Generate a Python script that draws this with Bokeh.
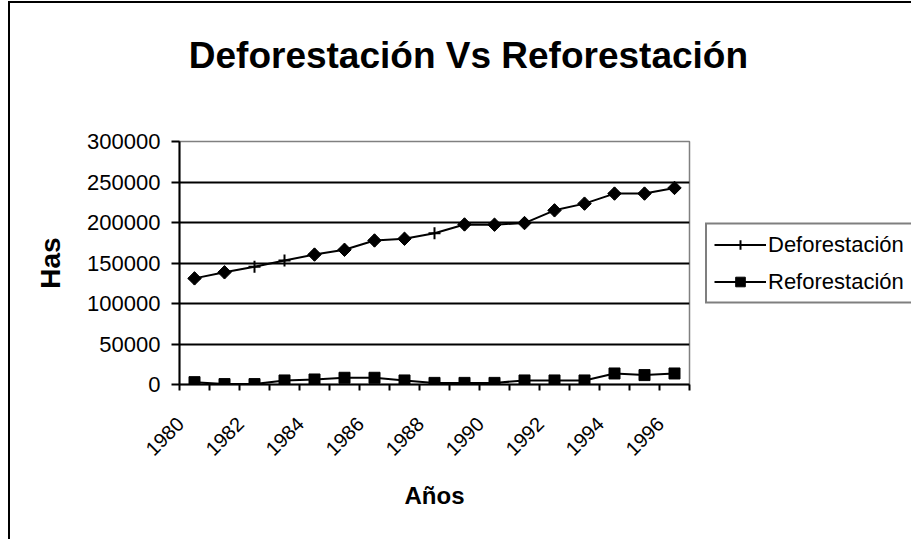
import math
from bokeh.plotting import figure
from bokeh.models import (Range1d, FixedTicker, BasicTickFormatter, Legend,
                          LegendItem, CustomJSTickFormatter, GlobalInlineStyleSheet,
                          LinearAxis)
from bokeh.embed import file_html
from bokeh.resources import INLINE

# ---- data ----
anios = list(range(1980, 1997))
deforestacion = [131000, 138500, 145500, 153000, 160400, 166300, 177800, 179900,
                 186800, 197600, 197300, 199300, 215000, 223300, 235700, 235700, 242700]
reforestacion = [2900, 500, 500, 5000, 6200, 8300, 8300, 5000,
                 2000, 2000, 2000, 5000, 5000, 5000, 13600, 11600, 13600]
# which deforestation points carry a diamond marker in the original
rombo = [1, 1, 0, 0, 1, 1, 1, 1, 0, 1, 1, 1, 1, 1, 1, 1, 1]
etiquetas_x = [1980, 1982, 1984, 1986, 1988, 1990, 1992, 1994, 1996]
ticks_y = [0, 50000, 100000, 150000, 200000, 250000, 300000]
titulo = "Deforestación Vs Reforestación"
serie_1 = "Deforestación"
serie_2 = "Reforestación"
eje_x = "Años"
eje_y = "Has"

FONT = "Liberation Sans"
LABEL_SHIFT = 0.47   # rotated labels end a little left of the category centre
# the chart title sits right of the plot-area centre: pad it on the left with
# em + en + three-per-em spaces (about 68 px at 37 px) so its centre moves ~34 px
TITLE_PAD = "\u2003\u2002\u2004"

p = figure(frame_width=510, frame_height=243,
           x_range=Range1d(anios[0] - 0.5, anios[-1] + 0.5),
           y_range=Range1d(ticks_y[0], ticks_y[-1]),
           output_backend="svg", toolbar_location=None,
           min_border_left=169, min_border_right=238,
           min_border_top=138, min_border_bottom=155)
p.styles = {"margin-left": "8px", "margin-top": "1px",
            "border-left": "2px solid black", "border-top": "2px solid black"}
p.stylesheets = [GlobalInlineStyleSheet(css="html, body { overflow: hidden; }")]
p.background_fill_color = "white"
p.border_fill_color = "white"
p.outline_line_color = "#808080"
p.outline_line_width = 1.5

# title: label of a bare axis above the plot area
title_axis = LinearAxis(ticker=FixedTicker(ticks=[]),
                        axis_line_color=None, major_tick_line_color=None,
                        minor_tick_line_color=None, major_tick_out=0, major_tick_in=0,
                        minor_tick_out=0, minor_tick_in=0,
                        major_label_text_font_size="0px", major_label_standoff=0,
                        axis_label=TITLE_PAD + titulo, axis_label_standoff=66,
                        axis_label_text_font=FONT, axis_label_text_font_style="bold",
                        axis_label_text_font_size="37px", axis_label_text_color="black")
p.add_layout(title_axis, "above")

# grid
p.xgrid.visible = False
p.ygrid.ticker = FixedTicker(ticks=ticks_y[1:-1])
p.ygrid.grid_line_color = "black"
p.ygrid.grid_line_width = 2

# x axis
xa = p.below[0]
xa.ticker = FixedTicker(ticks=[a - LABEL_SHIFT for a in etiquetas_x],
                        minor_ticks=[a - 0.5 for a in anios] + [anios[-1] + 0.5])
xa.formatter = CustomJSTickFormatter(code="return String(Math.round(tick));")
xa.major_tick_in = 0
xa.major_tick_out = 0
xa.minor_tick_in = 0
xa.minor_tick_out = 6
xa.minor_tick_line_color = "black"
xa.minor_tick_line_width = 2
xa.axis_line_color = "black"
xa.axis_line_width = 2
xa.major_label_orientation = math.pi / 4
xa.major_label_standoff = 30
xa.major_label_text_font = FONT
xa.major_label_text_font_size = "20px"
xa.major_label_text_color = "black"
xa.axis_label = eje_x
xa.axis_label_text_font = FONT
xa.axis_label_text_font_style = "bold"
xa.axis_label_text_font_size = "24px"
xa.axis_label_text_color = "black"
xa.axis_label_standoff = 17

# y axis
ya = p.yaxis[0]
ya.ticker = FixedTicker(ticks=ticks_y)
ya.formatter = BasicTickFormatter(use_scientific=False)
ya.major_tick_in = 0
ya.major_tick_out = 8
ya.major_tick_line_color = "black"
ya.major_tick_line_width = 2
ya.minor_tick_line_color = None
ya.axis_line_color = "black"
ya.axis_line_width = 2
ya.major_label_standoff = 11
ya.major_label_text_font = FONT
ya.major_label_text_font_size = "22px"
ya.major_label_text_color = "black"
ya.axis_label = eje_y
ya.axis_label_text_font = FONT
ya.axis_label_text_font_style = "bold"
ya.axis_label_text_font_size = "28px"
ya.axis_label_text_color = "black"
ya.axis_label_standoff = 18

# series
l1 = p.line(anios, deforestacion, line_color="black", line_width=2)
m1 = p.scatter(anios, deforestacion, marker="cross", size=12,
               line_color="black", line_width=2)
rx = [a for a, k in zip(anios, rombo) if k]
ry = [v for v, k in zip(deforestacion, rombo) if k]
p.scatter(rx, ry, marker="square", angle=math.pi / 4, size=9.5,
          fill_color="black", line_color="black")

l2 = p.line(anios, reforestacion, line_color="black", line_width=2)
m2 = p.scatter(anios, reforestacion, marker="square", size=11,
               fill_color="black", line_color="black")

legend = Legend(items=[LegendItem(label=serie_1, renderers=[l1, m1]),
                       LegendItem(label=serie_2, renderers=[l2, m2])],
                location="center_left", orientation="vertical",
                glyph_width=52, glyph_height=24, label_height=24,
                label_standoff=2, padding=7, spacing=11, margin=16,
                label_text_font=FONT, label_text_font_size="22px",
                label_text_color="black",
                border_line_color="black", border_line_width=2,
                background_fill_color="white", background_fill_alpha=1)
p.add_layout(legend, "right")

open("out.html", "w").write(file_html(p, INLINE))
